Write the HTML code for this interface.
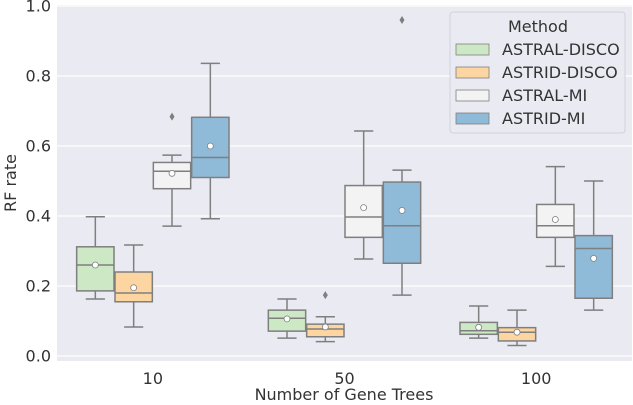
<!DOCTYPE html>
<html><head><meta charset="utf-8"><style>
body{margin:0;background:#fff;}
svg{display:block;font-family:"DejaVu Sans","Liberation Sans",sans-serif;}
</style></head><body>
<svg id="chart" width="633" height="405" viewBox="0 0 633 405" xmlns="http://www.w3.org/2000/svg">
<rect x="57" y="5" width="575" height="356" fill="#eaeaf2"/>
<g id="grid"></g>
<g id="boxes"></g>
<g id="axes"></g>
<g>
<rect x="450" y="12" width="175" height="121" rx="3" fill="#eaeaf2" stroke="#d0d0d8" opacity="0.9"/>
<text x="538" y="32" font-size="16" fill="#333" text-anchor="middle">Method</text>
<g id="legend-items"></g>
</g>
<text x="344" y="400" font-size="16" fill="#333" text-anchor="middle">Number of Gene Trees</text>
<text transform="translate(16,183) rotate(-90)" font-size="16" fill="#333" text-anchor="middle">RF rate</text>
</svg>
<script>
const categories = ["10", "50", "100"];
const methods = ["ASTRAL-DISCO", "ASTRID-DISCO", "ASTRAL-MI", "ASTRID-MI"];
const colors = ["#cde8c5", "#fdd5a0", "#f3f3f3", "#8fbbd9"];
const yTicks = [0.0, 0.2, 0.4, 0.6, 0.8, 1.0];
// [low whisker, Q1, median, Q3, high whisker] per category per method
const astralDisco = [[0.163,0.186,0.26,0.312,0.398],[0.051,0.071,0.108,0.131,0.163],[0.051,0.062,0.072,0.096,0.143]];
const astridDisco = [[0.083,0.155,0.18,0.24,0.317],[0.041,0.055,0.077,0.091,0.112],[0.03,0.043,0.068,0.081,0.131]];
const astralMi = [[0.371,0.478,0.528,0.553,0.574],[0.277,0.339,0.397,0.487,0.643],[0.256,0.339,0.372,0.433,0.541]];
const astridMi = [[0.392,0.51,0.567,0.682,0.836],[0.174,0.265,0.372,0.497,0.531],[0.131,0.165,0.307,0.344,0.5]];
const meansAstralDisco = [0.26,0.106,0.082];
const meansAstridDisco = [0.195,0.083,0.068];
const meansAstralMi = [0.522,0.424,0.39];
const meansAstridMi = [0.6,0.416,0.279];
const outliersAstralDisco = [[],[],[]];
const outliersAstridDisco = [[],[0.174],[]];
const outliersAstralMi = [[0.684],[],[]];
const outliersAstridMi = [[],[0.96],[]];

const series=[astralDisco,astridDisco,astralMi,astridMi];
const means=[meansAstralDisco,meansAstridDisco,meansAstralMi,meansAstridMi];
const outs=[outliersAstralDisco,outliersAstridDisco,outliersAstralMi,outliersAstridMi];
const NS="http://www.w3.org/2000/svg";
const x0=57,x1=632,bandW=(x1-x0)/categories.length;
const y=v=>356-350*v;
const xc=i=>x0+bandW*(i+0.5);
function mk(tag,attrs,parent){const e=document.createElementNS(NS,tag);for(const k in attrs)e.setAttribute(k,attrs[k]);parent.appendChild(e);return e;}
const grid=document.getElementById('grid'),axes=document.getElementById('axes'),boxes=document.getElementById('boxes');
yTicks.forEach(t=>{
  const l=mk('line',{x1:x0,x2:x1,y1:y(t),y2:y(t),stroke:'#fff','stroke-width':1.2},grid);
  
  
  const tx=mk('text',{x:51,y:y(t)+5.5,'font-size':16,fill:'#333','text-anchor':'end'},axes);
  tx.textContent=t.toFixed(1);
  
  
});
categories.forEach((c,i)=>{
  const tx=mk('text',{x:xc(i),y:384,'font-size':16,fill:'#333','text-anchor':'middle'},axes);
  tx.textContent=c;
  
  
});
const groupW=bandW*0.8,bw=groupW/methods.length;
const st='#7f7f7f';
categories.forEach((c,i)=>{
  methods.forEach((m,j)=>{
    const d=series[j][i];
    const cx=xc(i)-groupW/2+bw*(j+0.5);
    const g=mk('g',{},boxes);
    
    
    const bl=cx-bw/2+0.5,br=cx+bw/2-0.5,cap=bw/4;
    mk('line',{x1:cx,x2:cx,y1:y(d[0]),y2:y(d[1]),stroke:st,'stroke-width':1.5},g);
    mk('line',{x1:cx,x2:cx,y1:y(d[3]),y2:y(d[4]),stroke:st,'stroke-width':1.5},g);
    mk('line',{x1:cx-cap,x2:cx+cap,y1:y(d[0]),y2:y(d[0]),stroke:st,'stroke-width':1.5},g);
    mk('line',{x1:cx-cap,x2:cx+cap,y1:y(d[4]),y2:y(d[4]),stroke:st,'stroke-width':1.5},g);
    mk('rect',{x:bl,y:y(d[3]),width:br-bl,height:y(d[1])-y(d[3]),fill:colors[j],stroke:st,'stroke-width':1.5},g);
    mk('line',{x1:bl,x2:br,y1:y(d[2]),y2:y(d[2]),stroke:st,'stroke-width':1.5},g);
    mk('circle',{cx:cx,cy:y(means[j][i]),r:3,fill:'#fff',stroke:st,'stroke-width':0.8},g);
    outs[j][i].forEach(o=>{
      const p=mk('path',{d:`M${cx} ${y(o)-4}L${cx+2.5} ${y(o)}L${cx} ${y(o)+4}L${cx-2.5} ${y(o)}Z`,fill:st},g);
      
      
    });
  });
});
const li=document.getElementById('legend-items');
methods.forEach((m,j)=>{
  const yy=49+23*j;
  const g=mk('g',{},li);
  
  
  mk('rect',{x:456,y:yy-5,width:33,height:11,fill:colors[j],stroke:st,'stroke-width':0.8},g);
  const t=mk('text',{x:502,y:yy+6,'font-size':16,fill:'#333'},g);
  t.textContent=m;
});
</script>
</body></html>
